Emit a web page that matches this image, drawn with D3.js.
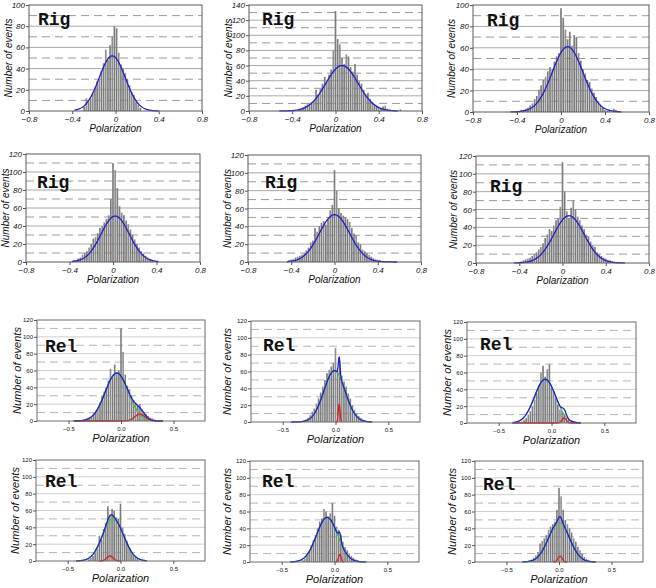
<!DOCTYPE html>
<html>
<head>
<meta charset="utf-8">
<script src="https://cdn.jsdelivr.net/npm/d3@7"></script>
<style>
  body { margin: 0; background: #fff; }
  svg { display: block; }
</style>
</head>
<body>
<svg id="chart" width="656" height="588"></svg>
<script>
// panel kinds and axis tops
var panelKind = ["Rig","Rig","Rig","Rig","Rig","Rig","Rel","Rel","Rel","Rel","Rel","Rel"];
var yMax = [100, 140, 100, 120, 120, 120, 120, 120, 120, 120, 120, 120];
var binWidth = 0.02;
// left edge of the first bin in each panel
var binStart = [-0.30, -0.35, -0.41, -0.37, -0.43, -0.41, -0.37, -0.33, -0.31, -0.31, -0.31, -0.31];

// histogram counts
var rig1 = [4, 12, 9, 12, 17, 22, 28, 30, 38, 45, 58, 48, 62, 70, 80, 78, 55, 44, 40, 36, 30, 24, 18, 15, 9, 6, 3];
var rig2 = [2, 3, 5, 7, 9, 10, 12, 14, 28, 22, 30, 36, 45, 38, 48, 55, 80, 132, 95, 88, 70, 62, 75, 72, 58, 52, 62, 48, 40, 36, 28, 22, 24, 16, 12, 9, 7, 5, 4, 6, 7, 3, 2, 1, 0, 0, 0, 2];
var rig3 = [1, 1, 2, 2, 3, 4, 6, 8, 12, 15, 21, 25, 30, 33, 38, 42, 40, 47, 52, 55, 97, 88, 77, 68, 75, 62, 72, 70, 55, 48, 40, 36, 30, 28, 22, 18, 14, 10, 6, 4, 2, 1, 1, 0, 3, 2];
var rig4 = [2, 2, 4, 5, 8, 10, 12, 16, 20, 26, 28, 32, 38, 40, 44, 48, 52, 70, 110, 102, 82, 62, 55, 52, 46, 42, 36, 30, 25, 20, 16, 12, 9, 7, 5, 3, 2];
var rig5 = [2, 3, 3, 5, 6, 7, 8, 10, 13, 16, 22, 24, 38, 34, 40, 44, 46, 42, 48, 58, 64, 103, 80, 60, 55, 52, 50, 48, 45, 38, 32, 30, 22, 20, 14, 12, 10, 8, 6, 4, 3, 2, 2, 1, 1, 1, 1, 1];
var rig6 = [1, 2, 3, 4, 5, 6, 8, 10, 12, 15, 18, 22, 28, 32, 38, 36, 42, 48, 50, 63, 113, 80, 58, 50, 62, 70, 60, 52, 48, 42, 38, 32, 30, 24, 20, 18, 12, 10, 8, 6, 5, 3, 3, 2, 1, 1, 1];
var rel1 = [1, 2, 3, 4, 6, 9, 12, 16, 22, 30, 35, 40, 48, 62, 52, 67, 58, 60, 110, 82, 55, 42, 38, 30, 25, 22, 18, 20, 14, 10, 8, 6, 4, 3, 2];
var rel2 = [1, 2, 3, 5, 8, 12, 16, 22, 28, 35, 42, 50, 58, 62, 66, 70, 88, 60, 72, 55, 48, 42, 34, 28, 20, 14, 10, 7, 5, 3, 2, 1];
var rel3 = [1, 2, 4, 6, 10, 14, 20, 28, 36, 45, 60, 68, 55, 64, 70, 42, 38, 30, 22, 16, 14, 10, 6, 4, 2, 1];
var rel4 = [2, 4, 6, 10, 14, 30, 25, 38, 45, 65, 55, 62, 60, 52, 50, 68, 40, 32, 24, 16, 12, 8, 5, 3];
var rel5 = [2, 4, 8, 12, 20, 26, 32, 40, 48, 52, 63, 60, 54, 58, 70, 55, 42, 38, 32, 24, 18, 14, 10, 7, 5, 3, 2];
var rel6 = [1, 2, 3, 5, 8, 12, 22, 25, 28, 32, 38, 42, 45, 48, 62, 88, 78, 62, 50, 45, 40, 35, 28, 24, 18, 14, 10, 6, 4, 2, 1];
var histCounts = [rig1, rig2, rig3, rig4, rig5, rig6, rel1, rel2, rel3, rel4, rel5, rel6];

// gaussian fit: main component (blue for Rig, green for Rel)
var mainAmp   = [52, 60, 61, 51, 53, 53, 57, 61, 52, 50, 53, 47];
var mainMean  = [-0.03, 0.06, 0.06, 0.02, 0.0, 0.06, -0.04, -0.01, -0.06, -0.07, -0.07, 0.0];
var mainSigma = [0.12, 0.15, 0.14, 0.13, 0.14, 0.14, 0.11, 0.10, 0.10, 0.10, 0.10, 0.10];
// second (red) component of the Rel fits
var compAmp   = [0, 0, 0, 0, 0, 0, 8, 22, 6, 6, 9, 7];
var compMean  = [0, 0, 0, 0, 0, 0, 0.18, 0.035, 0.12, -0.10, 0.05, 0.01];
var compSigma = [1, 1, 1, 1, 1, 1, 0.05, 0.008, 0.02, 0.03, 0.012, 0.02];
var curveFrom = [-0.38, -0.52, -0.46, -0.38, -0.44, -0.45, -0.45, -0.42, -0.37, -0.42, -0.42, -0.35];
var curveTo   = [0.40, 0.58, 0.55, 0.42, 0.58, 0.58, 0.40, 0.35, 0.28, 0.25, 0.30, 0.35];
var redFull   = [false, false, false, false, false, false, true, false, true, false, false, false];

var rigXTicks = [-0.8, -0.4, 0, 0.4, 0.8];
var relXTicks = [-0.5, 0.0, 0.5];

// plot frames [left, top, right, bottom]
var frames = [
  [29, 5, 202, 111], [249, 5, 422, 111], [473, 5, 649, 112],
  [26, 154, 200, 262], [248, 155, 421, 262], [476, 156, 649, 263],
  [37, 320, 205, 421], [251, 321, 420, 422], [467, 322, 636, 423],
  [36, 460, 205, 561], [250, 461, 419, 562], [475, 461, 643, 562]
];
// where the Rig/Rel tag sits inside the frame
var tagPos = [[9, 20], [13, 20], [14, 21], [11, 34], [17, 33], [14, 36],
              [8, 32], [12, 30], [13, 28], [9, 27], [12, 26], [8, 29]];
var yLabelOff = [21, 21, 22, 21, 21, 23, 20, 24, 20, 21, 23, 23];

var svg = d3.select("#chart");

function gauss(a, m, s, x) {
  return a * Math.exp(-(x - m) * (x - m) / (2 * s * s));
}

function drawPanel(i) {
  var f = frames[i], rig = panelKind[i] == "Rig";
  var x = d3.scaleLinear().domain([-0.8, 0.8]).range([f[0], f[2]]);
  var y = d3.scaleLinear().domain([0, yMax[i]]).range([f[3], f[1]]);
  var g = svg.append("g");
  var gridCol = rig ? "#9a9a9a" : "#b5b5b5";

  // grid lines: solid at major ticks, dashed halfway
  d3.range(10, yMax[i], 10).forEach(function (v) {
    var major = v % 20 == 0;
    g.append("line")
      .attr("x1", f[0]).attr("x2", f[2])
      .attr("y1", y(v)).attr("y2", y(v))
      .attr("stroke", major ? (rig ? "#a8a8a8" : "#cfcfcf") : gridCol)
      .attr("stroke-width", 1)
      .attr("stroke-dasharray", major ? null : "8,5");
  });

  // bars
  var counts = histCounts[i];
  var bw = x(binWidth) - x(0);
  g.selectAll("rect.bar").data(counts).enter().append("rect")
    .attr("class", "bar")
    .attr("x", function (d, k) { return x(binStart[i] + k * binWidth) + 0.25; })
    .attr("width", bw - 0.5)
    .attr("y", function (d) { return y(d); })
    .attr("height", function (d) { return y(0) - y(d); })
    .attr("fill", function (d, k) { return k % 3 == 1 ? "#8e8e8e" : "#7c7c7c"; });

  // fitted curves
  var xs = d3.range(curveFrom[i], curveTo[i] + 1e-9, 0.004);
  var line = d3.line().x(function (d) { return x(d[0]); }).y(function (d) { return y(d[1]); });
  if (!rig) {
    var rx = redFull[i] ? xs : xs.filter(function (v) {
      return Math.abs(v - compMean[i]) < 3.5 * compSigma[i];
    });
    g.append("path")
      .attr("d", line(xs.map(function (v) { return [v, gauss(mainAmp[i], mainMean[i], mainSigma[i], v)]; })))
      .attr("fill", "none").attr("stroke", "#3cc83c").attr("stroke-width", 1.2);
    g.append("path")
      .attr("d", line(rx.map(function (v) { return [v, gauss(compAmp[i], compMean[i], compSigma[i], v)]; })))
      .attr("fill", "none").attr("stroke", "#dd2222").attr("stroke-width", 1.3);
  }
  g.append("path")
    .attr("d", line(xs.map(function (v) {
      var s = gauss(mainAmp[i], mainMean[i], mainSigma[i], v);
      if (!rig) s += gauss(compAmp[i], compMean[i], compSigma[i], v);
      return [v, s];
    })))
    .attr("fill", "none").attr("stroke", "#1f1fd0").attr("stroke-width", 1.3);

  // frame
  g.append("rect")
    .attr("x", f[0]).attr("y", f[1])
    .attr("width", f[2] - f[0]).attr("height", f[3] - f[1])
    .attr("fill", "none").attr("stroke", rig ? "#5a5a5a" : "#6a6a6a").attr("stroke-width", 1);

  // axes
  var tickFont = rig ? "italic 8px 'Liberation Sans', Arial, sans-serif" : "6px 'Liberation Sans', Arial, sans-serif";
  var xAxis = d3.axisBottom(x)
    .tickValues(rig ? rigXTicks : relXTicks)
    .tickFormat(rig ? function (d) { return d == 0 ? "0" : d3.format(".1f")(d); } : d3.format(".1f"))
    .tickSize(3).tickPadding(rig ? 2 : 3);
  var ax = g.append("g").attr("transform", "translate(0," + f[3] + ")").call(xAxis);
  var yAxis = d3.axisLeft(y).tickValues(d3.range(0, yMax[i] + 1, 20)).tickSize(3).tickPadding(1);
  var ay = g.append("g").attr("transform", "translate(" + f[0] + ",0)").call(yAxis);
  [ax, ay].forEach(function (a) {
    a.select(".domain").remove();
    a.selectAll("line").attr("stroke", "#555");
    a.selectAll("text").style("font", tickFont).attr("fill", "#111");
  });

  // axis titles
  var titleFont = rig ? "italic 10px 'Liberation Sans', Arial, sans-serif" : "italic 11px 'Liberation Sans', Arial, sans-serif";
  g.append("text")
    .attr("x", (f[0] + f[2]) / 2).attr("y", f[3] + 21)
    .attr("text-anchor", "middle").style("font", titleFont).attr("fill", "#111")
    .text("Polarization");
  g.append("text")
    .attr("transform", "translate(" + (f[0] - yLabelOff[i] + 4) + "," + ((f[1] + f[3]) / 2) + ") rotate(-90)")
    .attr("text-anchor", "middle").style("font", titleFont).attr("fill", "#111")
    .text("Number of events");

  // Rig / Rel tag
  g.append("text")
    .attr("x", f[0] + tagPos[i][0]).attr("y", f[1] + tagPos[i][1])
    .style("font", "bold 18px 'Liberation Mono', 'Courier New', monospace")
    .attr("fill", "#111")
    .text(panelKind[i]);
}

d3.range(12).forEach(drawPanel);
</script>
</body>
</html>
